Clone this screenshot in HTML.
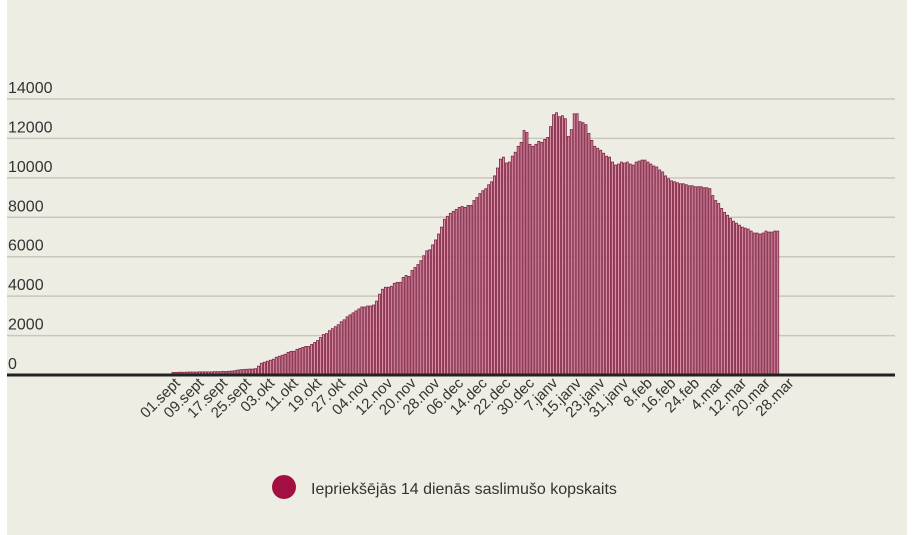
<!DOCTYPE html>
<html><head><meta charset="utf-8"><style>
html,body{margin:0;padding:0;background:#fff;width:918px;height:535px;overflow:hidden}
#bg{position:absolute;left:7px;top:0;width:900px;height:535px;background:#eeede4}
svg{position:absolute;left:0;top:0}
text{font-family:"Liberation Sans",sans-serif;fill:#333}
</style></head><body>
<div id="bg"></div>
<svg id="chart" width="918" height="535"></svg>
<script>
const yTicks=[0,2000,4000,6000,8000,10000,12000,14000];
const xLabels=["01.sept","09.sept","17.sept","25.sept","03.okt","11.okt","19.okt","27.okt","04.nov","12.nov","20.nov","28.nov","06.dec","14.dec","22.dec","30.dec","7.janv","15.janv","23.janv","31.janv","8.feb","16.feb","24.feb","4.mar","12.mar","20.mar","28.mar"];
const values=[
130,130,140,140,140,150,150,150,150,160,
160,160,160,160,170,170,170,180,180,190,
200,220,250,270,280,290,300,300,320,450,
600,650,700,750,800,900,950,1000,1050,1150,
1200,1200,1300,1350,1400,1450,1450,1550,1650,1750,
1900,2050,2100,2250,2350,2450,2550,2700,2800,2950,
3050,3150,3250,3350,3450,3450,3500,3500,3550,3750,
4100,4350,4450,4450,4500,4650,4700,4700,4950,5050,
5000,5300,5450,5600,5800,6050,6300,6350,6600,6850,
7150,7500,7900,8050,8200,8300,8400,8500,8550,8500,
8600,8600,8850,9000,9200,9350,9450,9650,9800,10100,
10500,10950,11050,10750,10800,11100,11300,11600,11800,12400,
12300,11700,11600,11700,11850,11800,11950,12050,12600,13200,
13300,13100,13150,13000,12100,12450,13250,13250,12850,12800,
12700,12250,11900,11600,11500,11400,11250,11100,11050,10800,
10650,10700,10800,10750,10800,10700,10650,10800,10850,10900,
10900,10800,10700,10600,10550,10400,10300,10100,9950,9850,
9800,9750,9700,9700,9650,9600,9600,9550,9550,9550,
9500,9500,9450,9100,8850,8700,8450,8250,8100,7950,
7800,7700,7600,7500,7450,7400,7300,7200,7200,7150,
7200,7300,7250,7250,7300,7300];
const NS="http://www.w3.org/2000/svg";
const svg=document.getElementById('chart');
const y0=375, pxPer=(375-99)/14000;
const yScale=v=>y0-v*pxPer;
const x0=172, step=2.95;
const xScale=i=>x0+i*step;
function mk(t,a){const e=document.createElementNS(NS,t);for(const k in a)e.setAttribute(k,a[k]);svg.appendChild(e);return e;}
yTicks.forEach(t=>{
  const y=yScale(t);
  if(t>0){const l=mk('line',{x1:7,x2:895,y1:y,y2:y,stroke:'#c9c7bc','stroke-width':1.5});
  
  }
  const tx=mk('text',{x:8,y:y-6,'font-size':16});
  tx.textContent=t;
  
  
});
values.forEach((v,i)=>{
  const x=xScale(i), y=yScale(v);
  const r=mk('rect',{x:x,y:y,width:2,height:y0-y,fill:'#dc8fa5',stroke:'#7a2040','stroke-width':0.8});
  
  
});
const ax=mk('line',{x1:7,x2:895,y1:375,y2:375,stroke:'#222','stroke-width':3});


xLabels.forEach((s,k)=>{
  const x=xScale(k*8)+9, y=384;
  const t=mk('text',{x:x,y:y,'font-size':15,'text-anchor':'end',transform:`rotate(-45 ${x} ${y})`});
  t.textContent=s;
  
  
});
const c=mk('circle',{cx:284,cy:487,r:12,fill:'#a20f43'});


const lt=mk('text',{x:311,y:494,'font-size':16});
lt.textContent='Iepriekšējās 14 dienās saslimušo kopskaits';


</script>
</body></html>
